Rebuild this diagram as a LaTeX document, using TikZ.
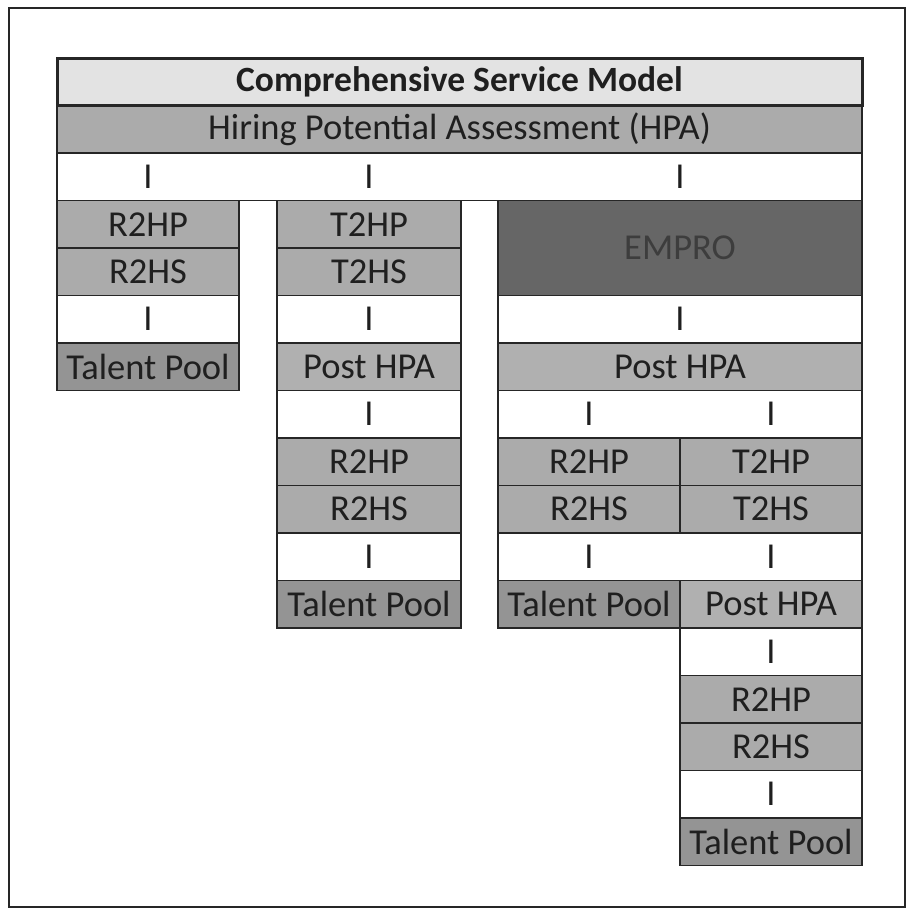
\documentclass[tikz,border=0pt]{standalone}
\usepackage{fontspec}
\setmainfont{Carlito}
\begin{document}
\begin{tikzpicture}[x=1pt,y=-1pt,
  cellbase/.style={draw=black!85, line width=1.3pt, inner sep=0pt, minimum height=47.5pt,
     font=\fontsize{36.5}{40}\selectfont, text=black!88},
  whitecell/.style={cellbase, fill=white},
  graycell/.style={cellbase, fill=black!33},
  tpcell/.style={cellbase, fill=black!42},
  postcell/.style={cellbase, fill=black!31},
  empro/.style={cellbase, fill=black!60, text=black!76, minimum height=95pt},
  titlecell/.style={cellbase, fill=black!11, line width=3pt, font=\fontsize{35.5}{40}\selectfont\bfseries},
  colF/.style={minimum width=805pt},
  colL/.style={minimum width=182pt},
  colM/.style={minimum width=184pt},
  colR/.style={minimum width=364pt},
  colRL/.style={minimum width=182pt},
  colRR/.style={minimum width=182pt},
  bar/.style={font=\fontsize{36.5}{40}\selectfont, text=black!88}
]
\useasboundingbox (0,0) rectangle (909,911);
\draw[line width=2.5pt, black!85] (9,8) rectangle (905,907);

% column centres: L 148, M 369, R 680, RL 589, RR 771, F 459.5
% row centre y = 81.75 + 47.5*i
\node[graycell, colF] (hpa) at (459.5,{81.75+47.5*1}) {Hiring Potential Assessment (HPA)};
\node[titlecell, colF] (csm) at (459.5,{81.75}) {Comprehensive Service Model};
\node[whitecell, colF] (w2) at (459.5,{81.75+47.5*2}) {};
\node[bar] (b2a) at (148,{81.75+47.5*2}) {I};
\node[bar] (b2b) at (369,{81.75+47.5*2}) {I};
\node[bar] (b2c) at (680,{81.75+47.5*2}) {I};

% left column
\node[graycell, colL] (l3) at (148,{81.75+47.5*3}) {R2HP};
\node[graycell, colL] (l4) at (148,{81.75+47.5*4}) {R2HS};
\node[whitecell, colL] (l5) at (148,{81.75+47.5*5}) {I};
\node[tpcell, colL] (l6) at (148,{81.75+47.5*6}) {Talent Pool};

% middle column
\node[graycell, colM] (m3) at (369,{81.75+47.5*3}) {T2HP};
\node[graycell, colM] (m4) at (369,{81.75+47.5*4}) {T2HS};
\node[whitecell, colM] (m5) at (369,{81.75+47.5*5}) {I};
\node[postcell, colM] (m6) at (369,{81.75+47.5*6}) {Post HPA};
\node[whitecell, colM] (m7) at (369,{81.75+47.5*7}) {I};
\node[graycell, colM] (m8) at (369,{81.75+47.5*8}) {R2HP};
\node[graycell, colM] (m9) at (369,{81.75+47.5*9}) {R2HS};
\node[whitecell, colM] (m10) at (369,{81.75+47.5*10}) {I};
\node[tpcell, colM] (m11) at (369,{81.75+47.5*11}) {Talent Pool};

% right column
\node[empro, colR] (emp) at (680,{81.75+47.5*3.5}) {EMPRO};
\node[whitecell, colR] (r5) at (680,{81.75+47.5*5}) {I};
\node[postcell, colR] (r6) at (680,{81.75+47.5*6}) {Post HPA};
\node[whitecell, colR] (r7) at (680,{81.75+47.5*7}) {};
\node[bar] (b7a) at (589,{81.75+47.5*7}) {I};
\node[bar] (b7b) at (771,{81.75+47.5*7}) {I};
\node[graycell, colRL] (rl8) at (589,{81.75+47.5*8}) {R2HP};
\node[graycell, colRL] (rl9) at (589,{81.75+47.5*9}) {R2HS};
\node[graycell, colRR] (rr8) at (771,{81.75+47.5*8}) {T2HP};
\node[graycell, colRR] (rr9) at (771,{81.75+47.5*9}) {T2HS};
\node[whitecell, colR] (r10) at (680,{81.75+47.5*10}) {};
\node[bar] (b10a) at (589,{81.75+47.5*10}) {I};
\node[bar] (b10b) at (771,{81.75+47.5*10}) {I};
\node[tpcell, colRL] (rl11) at (589,{81.75+47.5*11}) {Talent Pool};
\node[postcell, colRR] (rr11) at (771,{81.75+47.5*11}) {Post HPA};
\node[whitecell, colRR] (rr12) at (771,{81.75+47.5*12}) {I};
\node[graycell, colRR] (rr13) at (771,{81.75+47.5*13}) {R2HP};
\node[graycell, colRR] (rr14) at (771,{81.75+47.5*14}) {R2HS};
\node[whitecell, colRR] (rr15) at (771,{81.75+47.5*15}) {I};
\node[tpcell, colRR] (rr16) at (771,{81.75+47.5*16}) {Talent Pool};
\end{tikzpicture}
\end{document}
